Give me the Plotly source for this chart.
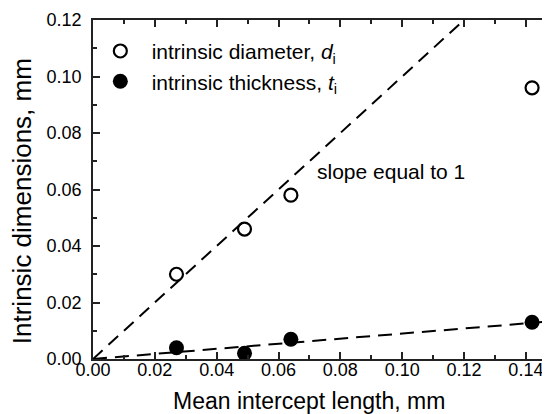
import plotly.graph_objects as go

# data
intercept_length = [0.027, 0.049, 0.064, 0.142]
diameter = [0.030, 0.046, 0.058, 0.096]
thickness = [0.004, 0.002, 0.007, 0.013]

slope1_x = [0.0, 0.12]
slope1_y = [0.0, 0.12]
fit_t_x = [0.0, 0.1478]
fit_t_y = [0.0, 0.0133]

x_ticks = [0.00, 0.02, 0.04, 0.06, 0.08, 0.10, 0.12, 0.14]
y_ticks = [0.00, 0.02, 0.04, 0.06, 0.08, 0.10, 0.12]

NB = "\u00a0"

fig = go.Figure()
fig.add_trace(go.Scatter(x=slope1_x, y=slope1_y, mode="lines",
                         line=dict(color="black", width=2, dash="13px,8px"),
                         showlegend=False, hoverinfo="skip"))
fig.add_trace(go.Scatter(x=fit_t_x, y=fit_t_y, mode="lines",
                         line=dict(color="black", width=2, dash="14px,8px"),
                         showlegend=False, hoverinfo="skip"))
fig.add_trace(go.Scatter(x=intercept_length, y=diameter, mode="markers",
                         name=NB + "intrinsic diameter, <i>d</i><sub>i</sub>",
                         marker=dict(symbol="circle-open", size=13, color="black",
                                     line=dict(width=2.2, color="black"))))
fig.add_trace(go.Scatter(x=intercept_length, y=thickness, mode="markers",
                         name=NB + "intrinsic thickness, <i>t</i><sub>i</sub>",
                         marker=dict(symbol="circle", size=15, color="black")))

fig.add_annotation(x=0.0718, y=0.0662, text="slope equal to 1", showarrow=False,
                   xanchor="left", yanchor="middle",
                   font=dict(size=21, color="black"))

# axis titles
fig.add_annotation(xref="paper", yref="paper", x=0.473, y=-0.123,
                   text="Mean intercept length, mm", showarrow=False,
                   xanchor="center", yanchor="middle", font=dict(size=23, color="black"))
fig.add_annotation(xref="paper", yref="paper", x=-0.155, y=0.466,
                   text="Intrinsic dimensions, mm", showarrow=False, textangle=-90,
                   xanchor="center", yanchor="middle", font=dict(size=26, color="black"))

axis_common = dict(
    showgrid=False, zeroline=False, showline=True, linecolor="#222", linewidth=1.5,
    mirror="allticks", ticks="inside", ticklen=7, tickwidth=1.5, tickcolor="#222",
    tickfont=dict(size=18, color="black"), tickformat=".2f", automargin=False,
)
fig.update_xaxes(range=[0, 0.1478], tickvals=x_ticks, ticklabelstandoff=-6,
                 minor=dict(ticks="inside", ticklen=4, dtick=0.01, tickwidth=1.5, tickcolor="#222"),
                 **axis_common)
fig.update_yaxes(range=[0, 0.12], tickvals=y_ticks, ticklabelstandoff=6,
                 minor=dict(ticks="inside", ticklen=4, dtick=0.01, tickwidth=1.5, tickcolor="#222"),
                 **axis_common)

fig.update_layout(
    width=542, height=406,
    margin=dict(l=85, r=0, t=12, b=55),
    paper_bgcolor="white", plot_bgcolor="white",
    font=dict(family="Liberation Sans, Arial, sans-serif", color="black"),
    legend=dict(x=0.004, y=0.968, xanchor="left", yanchor="top", itemwidth=41,
                font=dict(size=21), bgcolor="rgba(0,0,0,0)", tracegroupgap=0),
)

fig.write_html("out.html")
